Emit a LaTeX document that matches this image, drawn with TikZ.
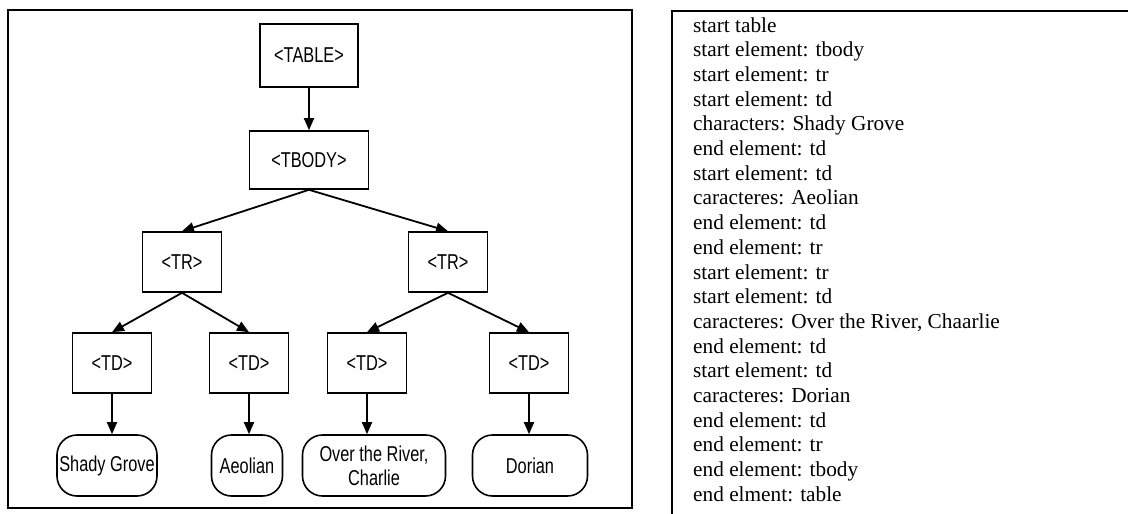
\documentclass[tikz,border=0pt]{standalone}
\usepackage{fontspec}
\setmainfont{Liberation Serif}
\newfontfamily\treefont[FakeStretch=0.76]{Liberation Sans}
\usetikzlibrary{arrows.meta}
\begin{document}
\begin{tikzpicture}[x=1pt,y=-1pt,
  frame/.style={line width=2pt},
  tagbox/.style={draw, line width=1.6pt, minimum width=79pt, minimum height=60pt, inner sep=0pt,
    font=\treefont\fontsize{21.5}{24}\selectfont},
  leaf/.style={draw, line width=1.6pt, rounded corners=20pt, minimum height=61pt, inner sep=0pt,
    align=center, font=\treefont\fontsize{21.5}{24}\selectfont},
  link/.style={line width=1.8pt, -{Triangle[length=12pt,width=10pt]}},
  logline/.style={anchor=base west, inner sep=0pt, font=\fontsize{21.3}{24}\selectfont}
]
\useasboundingbox (0,0) rectangle (1128,514);
\fill[white] (0,0) rectangle (1128,514);
% frames
\draw[frame] (8,10) rectangle (632,508);
\draw[frame] (1128,11) -- (672,11) -- (672,514);
% tree
\node[tagbox, minimum width=98pt, minimum height=63pt] (table) at (309,55.5) {<TABLE>};
\node[tagbox, minimum width=119pt, minimum height=58pt] (tbody) at (309,160) {<TBODY>};
\node[tagbox] (tr1) at (182,262) {<TR>};
\node[tagbox] (tr2) at (448,262) {<TR>};
\node[tagbox] (td1) at (112,363) {<TD>};
\node[tagbox] (td2) at (249,363) {<TD>};
\node[tagbox] (td3) at (367,363) {<TD>};
\node[tagbox] (td4) at (529,363) {<TD>};
\node[leaf, minimum width=100pt] (l1) at (107,465.5) {Shady Grove};
\node[leaf, minimum width=71pt] (l2) at (247,465.5) {Aeolian};
\node[leaf, minimum width=143pt] (l3) at (374,465.5) {Over the River,\\Charlie};
\node[leaf, minimum width=115pt] (l4) at (530,465.5) {Dorian};
\draw[link] (table) -- (tbody);
\draw[link] (tbody.south) -- (tr1.north);
\draw[link] (tbody.south) -- (tr2.north);
\draw[link] (tr1.south) -- (td1.north);
\draw[link] (tr1.south) -- (td2.north);
\draw[link] (tr2.south) -- (td3.north);
\draw[link] (tr2.south) -- (td4.north);
\draw[link] (td1.south) -- (td1.south |- l1.north);
\draw[link] (td2.south) -- (td2.south |- l2.north);
\draw[link] (td3.south) -- (td3.south |- l3.north);
\draw[link] (td4.south) -- (td4.south |- l4.north);
% log
\foreach \t [count=\i from 0] in {start table,start element: tbody,start element: tr,start element: td,characters: Shady Grove,end element: td,start element: td,caracteres: Aeolian,end element: td,end element: tr,start element: tr,start element: td,{caracteres: Over the River, Chaarlie},end element: td,start element: td,caracteres: Dorian,end element: td,end element: tr,end element: tbody,end elment: table}
  \node[logline] (log\i) at (693,{32+\i*24.7}) {\t};
\end{tikzpicture}
\end{document}
